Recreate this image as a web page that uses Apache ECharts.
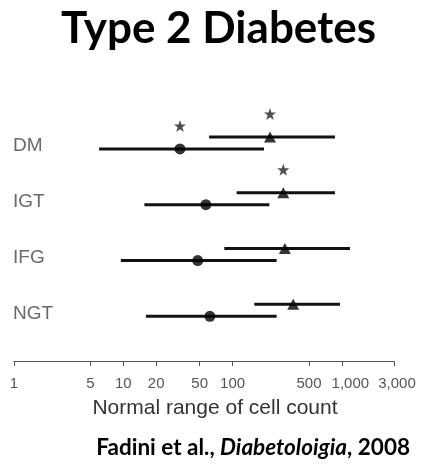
<!DOCTYPE html>
<html>
<head>
<meta charset="utf-8">
<script src="https://cdn.jsdelivr.net/npm/echarts@6/dist/echarts.min.js"></script>
<style>
  html, body { margin: 0; padding: 0; background: #fff; }
  #chart { width: 423px; height: 476px; }
</style>
</head>
<body>
<div id="chart"></div>
<script>
// groups, top to bottom
var categories = ['DM', 'IGT', 'IFG', 'NGT'];
// triangle marker (upper bar of each group)
var triMid  = [220, 291, 301, 359];
var triLow  = [61, 109, 84, 158];
var triHigh = [865, 865, 1186, 961];
// circle marker (lower bar of each group)
var dotMid  = [33, 57, 48, 62];
var dotLow  = [6.0, 15.6, 9.5, 16.1];
var dotHigh = [194, 217, 253, 253];
// asterisk over the marker (significant)
var triStar = [true, true, false, false];
var dotStar = [true, false, false, false];
var tickValues = [1, 5, 10, 20, 50, 100, 500, 1000, 3000];

var TRI_SHIFT = 0.215; // triangle row sits a bit above the circle row

function rowOf(i) { return categories.length - i; }

var barData = [];
var triData = [];
var dotData = [];
var starData = [];
var labelData = [];
categories.forEach(function (c, i) {
  var k = rowOf(i);
  barData.push([triLow[i], triHigh[i], k + TRI_SHIFT]);
  barData.push([dotLow[i], dotHigh[i], k]);
  triData.push([triMid[i], k + TRI_SHIFT]);
  dotData.push([dotMid[i], k]);
  if (triStar[i]) starData.push([triMid[i], k + TRI_SHIFT]);
  if (dotStar[i]) starData.push([dotMid[i], k]);
  labelData.push({ value: [1, k], name: c });
});

var chart = echarts.init(document.getElementById('chart'));
chart.setOption({
  animation: false,
  title: [
    {
      text: 'Type 2 Diabetes',
      left: 56,
      top: 2,
      textStyle: { fontFamily: 'Lato', fontWeight: 'bold', fontSize: 44, color: '#000' }
    },
    {
      text: '{a|Fadini et al., }{b|Diabetoloigia}{a|, 2008}',
      right: 8,
      top: 431,
      textStyle: {
        rich: {
          a: { fontFamily: 'Lato', fontWeight: 'bold', fontSize: 22.5, color: '#000' },
          b: { fontFamily: 'Lato', fontWeight: 'bold', fontStyle: 'italic', fontSize: 22.5, color: '#000' }
        }
      }
    }
  ],
  grid: { left: 14, right: 29, top: 121, bottom: 115 },
  xAxis: {
    type: 'log',
    logBase: 10,
    min: 1,
    max: 3000,
    name: 'Normal range of cell count',
    nameLocation: 'middle',
    nameGap: 37,
    nameTextStyle: { fontFamily: 'Liberation Sans', fontSize: 21, color: '#333', padding: [0, 0, 0, 22] },
    axisLine: { lineStyle: { color: '#555', width: 1 } },
    axisTick: { show: true, length: 5, customValues: tickValues, lineStyle: { color: '#555' } },
    axisLabel: {
      customValues: tickValues,
      margin: 15,
      fontFamily: 'Liberation Sans',
      fontSize: 15,
      color: '#555',
      formatter: function (v) {
        var s = Number(v).toLocaleString('en-US');
        // the thousands labels sit a little right of their ticks
        if (v >= 3000) return '{r|' + s + '}';
        if (v >= 1000) return '{k|' + s + '}';
        return s;
      },
      rich: {
        k: { fontFamily: 'Liberation Sans', fontSize: 15, color: '#555', padding: [0, 0, 0, 17] },
        r: { fontFamily: 'Liberation Sans', fontSize: 15, color: '#555', padding: [0, 0, 0, 6] }
      }
    },
    splitLine: { show: false },
    minorTick: { show: false }
  },
  yAxis: {
    type: 'value',
    min: 0.2,
    max: 4.5,
    show: false
  },
  series: [
    {
      type: 'custom',
      clip: false,
      data: barData,
      encode: { x: [0, 1], y: 2 },
      renderItem: function (params, api) {
        var p1 = api.coord([api.value(0), api.value(2)]);
        var p2 = api.coord([api.value(1), api.value(2)]);
        return {
          type: 'line',
          shape: { x1: p1[0], y1: p1[1], x2: p2[0], y2: p2[1] },
          style: { stroke: '#111', lineWidth: 3 }
        };
      }
    },
    {
      type: 'scatter',
      clip: false,
      data: dotData,
      symbol: 'circle',
      symbolSize: 11,
      itemStyle: { color: '#000' }
    },
    {
      type: 'scatter',
      clip: false,
      data: triData,
      symbol: 'triangle',
      symbolSize: [12, 11],
      itemStyle: { color: '#000' }
    },
    {
      type: 'scatter',
      clip: false,
      data: starData,
      symbol: 'path://M0,-10L2.35,-3.24L9.51,-3.09L3.8,1.24L5.88,8.09L0,4L-5.88,8.09L-3.8,1.24L-9.51,-3.09L-2.35,-3.24Z',
      symbolSize: 12,
      symbolOffset: [0, -23],
      itemStyle: { color: '#222' }
    },
    {
      type: 'scatter',
      clip: false,
      data: labelData,
      symbolSize: 0,
      label: {
        show: true,
        position: 'right',
        distance: -1,
        offset: [0, -3],
        formatter: '{b}',
        fontFamily: 'Liberation Sans',
        fontSize: 19,
        color: '#444'
      }
    }
  ]
});
</script>
</body>
</html>
